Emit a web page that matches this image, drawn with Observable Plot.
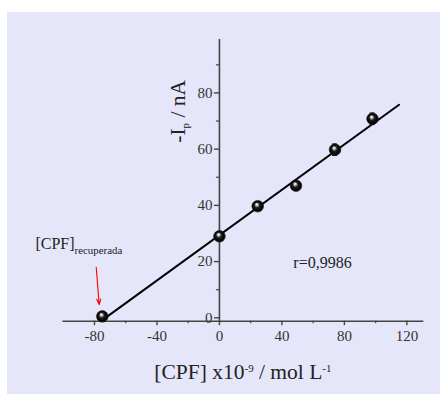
<!DOCTYPE html>
<html>
<head>
<meta charset="utf-8">
<script src="https://cdn.jsdelivr.net/npm/d3@7"></script>
<script src="https://cdn.jsdelivr.net/npm/@observablehq/plot@0.6"></script>
<style>
  html, body { margin: 0; padding: 0; background: #ffffff; }
  #chart { position: absolute; left: 7px; top: 12px; }
  #chart svg text { font-family: "Liberation Serif", "Times New Roman", serif; }
</style>
</head>
<body>
<div id="chart"></div>
<script>
// ---- data ----
const conc    = [-75, 0, 24.5, 49, 74, 98];        // [CPF] x10^-9 mol/L
const current = [0.5, 29, 39.7, 47, 59.8, 70.8];   // -Ip / nA
const errors  = [0.6, 0.8, 0.8, 0.9, 2.0, 2.0];
const fitX = [-73, 115];
const fitY = [0, 75.8];
const xTicks = [-80, -40, 0, 40, 80, 120];
const xMinor = [-60, -20, 20, 60, 100];
const yTicks = [0, 20, 40, 60, 80];
const yMinor = [10, 30, 50, 70, 90];
const xTitle = "[CPF] x10-9 / mol L-1";
const yTitle = "-Ip / nA";
const annot = "[CPF]recuperada";
const rText = "r=0,9986";
const arrowX = [-78.9, -77];
const arrowY = [18, 4.7];
const annotX = -117.8, annotY = 26.4;
const rX = 66, rY = 19.7;

const points = conc.map((x, i) => ({x, y: current[i], e: errors[i]}));
const fit = fitX.map((x, i) => ({x, y: fitY[i]}));

// ---- layout ----
const W = 433, H = 382;
const ml = 55.75, mr = 18, mt = 27, mb = 73.3;
const xDomain = [-100, 130], yDomain = [-1.2, 99];
const xs = d3.scaleLinear(xDomain, [ml, W - mr]);
const yAxisDx = xs(0) - ml;

const serif = "Liberation Serif, Times New Roman, serif";
const axisColor = "#444";
const fmt = d => String(d);

const plot = Plot.plot({
  width: W, height: H,
  marginLeft: ml, marginRight: mr, marginTop: mt, marginBottom: mb,
  style: {background: "#e6e6fa", fontFamily: serif, color: "#333", overflow: "visible"},
  x: {domain: xDomain},
  y: {domain: yDomain},
  marks: [
    Plot.frame({anchor: "bottom", stroke: axisColor, strokeWidth: 1.6}),
    Plot.ruleX([0], {stroke: axisColor, strokeWidth: 1.6}),
    Plot.axisX({ticks: xTicks, tickFormat: fmt, tickSize: 4.5, tickPadding: 4.5, fontSize: 15, label: null,
                fontFamily: serif, stroke: axisColor, strokeWidth: 1.4, fill: "#333"}),
    Plot.axisX({ticks: xMinor, tickSize: 2.5, text: null, label: null, stroke: axisColor, strokeWidth: 1.2}),
    Plot.axisY({ticks: yTicks, tickFormat: fmt, tickSize: 5, tickPadding: 2, fontSize: 15, label: null, dx: yAxisDx,
                fontFamily: serif, stroke: axisColor, strokeWidth: 1.4, fill: "#333"}),
    Plot.axisY({ticks: yMinor, tickSize: 3, text: null, label: null, dx: yAxisDx, stroke: axisColor, strokeWidth: 1.2}),
    Plot.line(fit, {x: "x", y: "y", stroke: "#000", strokeWidth: 2}),
    Plot.ruleX(points, {x: "x", y1: d => d.y - d.e, y2: d => d.y + d.e, stroke: "#222", strokeWidth: 1.3}),
    Plot.ruleY(points, {y: d => d.y + d.e, x1: "x", x2: "x", insetLeft: -2.5, insetRight: -2.5, stroke: "#222", strokeWidth: 1.3}),
    Plot.ruleY(points, {y: d => d.y - d.e, x1: "x", x2: "x", insetLeft: -2.5, insetRight: -2.5, stroke: "#222", strokeWidth: 1.3}),
    Plot.dot(points, {x: "x", y: "y", r: 5.8, fill: "url(#sphere)", stroke: "#000", strokeWidth: 0.6}),
    Plot.arrow([0], {x1: arrowX[0], y1: arrowY[0], x2: arrowX[1], y2: arrowY[1], stroke: "#ff0000",
                     strokeWidth: 1.1, headLength: 8, headAngle: 40}),
    Plot.text([annot], {x: annotX, y: annotY, text: d => d, textAnchor: "start", fontSize: 16, fontFamily: serif, fill: "#222"}),
    Plot.text([rText], {x: rX, y: rY, text: d => d, textAnchor: "middle", fontSize: 16, fontFamily: serif, fill: "#222"}),
    Plot.text([xTitle], {frameAnchor: "bottom", text: d => d, dy: 58, textAnchor: "middle", fontSize: 21.5, fontFamily: serif, fill: "#222"}),
    Plot.text([yTitle], {frameAnchor: "left", text: d => d, dx: 114.5, dy: -69, rotate: -90, textAnchor: "middle", fontSize: 21.5, fontFamily: serif, fill: "#222"})
  ]
});

// gradient for the spherical markers
const svg = d3.select(plot);
const defs = svg.insert("defs", ":first-child");
const g = defs.append("radialGradient").attr("id", "sphere")
  .attr("cx", "50%").attr("cy", "50%").attr("r", "50%").attr("fx", "40%").attr("fy", "32%");
g.append("stop").attr("offset", "0%").attr("stop-color", "#ffffff");
g.append("stop").attr("offset", "18%").attr("stop-color", "#d0d0d0");
g.append("stop").attr("offset", "45%").attr("stop-color", "#222");
g.append("stop").attr("offset", "85%").attr("stop-color", "#000");
g.append("stop").attr("offset", "100%").attr("stop-color", "#333");

// rich text (super/subscripts)
const rich = {
  [xTitle]: [["[CPF] x10", 0], ["-9", 1], [" / mol L", 0], ["-1", 1]],
  [yTitle]: [["-I", 0], ["p", -1], [" / nA", 0]],
  [annot]: [["[CPF]", 0], ["recuperada", -1]]
};
svg.selectAll("text").each(function () {
  const el = d3.select(this);
  const t = el.text();
  const parts = rich[t];
  if (!parts) return;
  el.text(null);
  const fs = parseFloat(el.attr("font-size")) || parseFloat(getComputedStyle(this).fontSize) || 16;
  let shift = 0;
  parts.forEach(([s, k]) => {
    const target = k === 1 ? -0.42 * fs : k === -1 ? 0.3 * fs : 0;
    const ts = el.append("tspan").text(s).attr("dy", target - shift);
    if (k !== 0) ts.attr("font-size", (fs * 0.68).toFixed(1));
    shift = target;
  });
});

document.getElementById("chart").appendChild(plot);
</script>
</body>
</html>
